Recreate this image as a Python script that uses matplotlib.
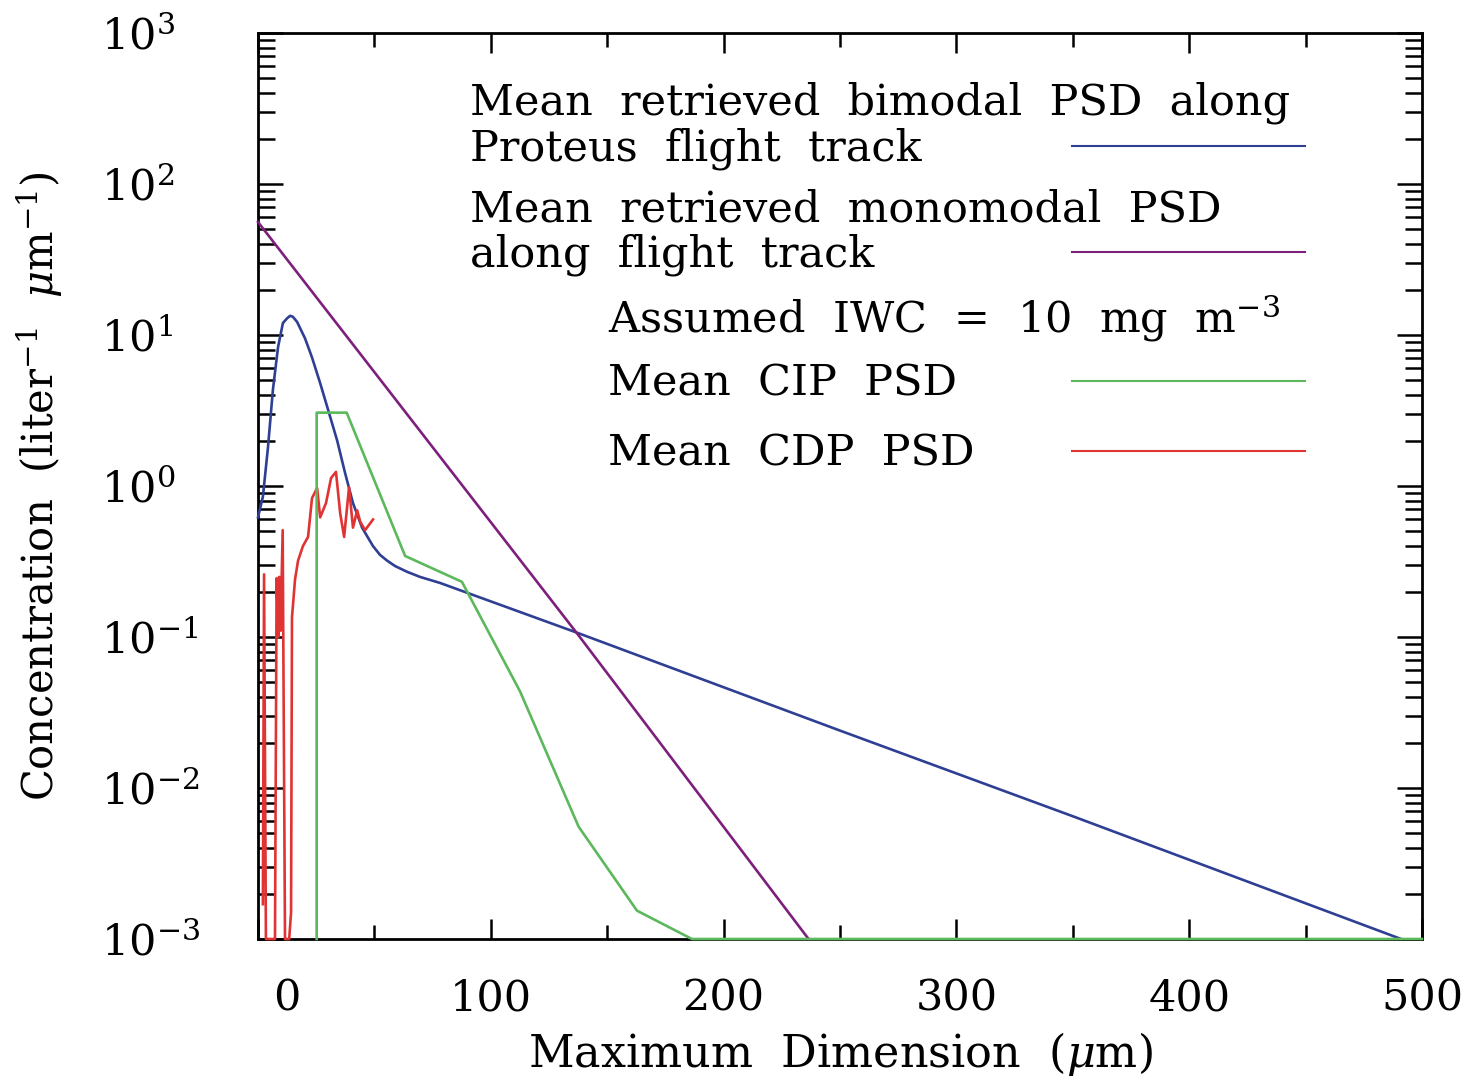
import numpy as np
import matplotlib
matplotlib.use("Agg")
import matplotlib.pyplot as plt
import matplotlib.transforms as mtransforms
from matplotlib.ticker import LogLocator, MultipleLocator, NullFormatter

plt.rcParams['font.family'] = 'DejaVu Serif'
plt.rcParams['mathtext.fontset'] = 'dejavuserif'

# Mean retrieved bimodal PSD (blue)
bi_d = [0, 0.9, 2.1, 4.3, 6.4, 8.6, 10.7, 12.5, 13.8, 15.0, 16.8, 20.2, 23.2, 26.7,
        30.1, 34.0, 37.4, 40.8, 44.7, 49.4, 52.4, 55.5, 58.9, 64.1, 69.6, 78.2,
        137.6, 250, 350, 491]
bi_n = [0.62, 0.71, 0.85, 1.81, 4.33, 8.3, 12.0, 12.9, 13.4, 13.2, 12.2, 9.5, 7.1, 4.8,
        3.2, 2.0, 1.22, 0.77, 0.53, 0.40, 0.35, 0.32, 0.295, 0.27, 0.25, 0.228,
        0.106, 0.024, 0.0065, 0.001]

# Mean retrieved monomodal PSD (purple)
mono_d = [0, 137.6, 236.5]
mono_n = [56.0, 0.103, 0.001]

# Mean CIP PSD (green)
cip_d = [25.2, 25.2, 38.1, 63.2, 87.6, 112.6, 137.7, 162.8, 186.4, 500]
cip_n = [0.001, 3.06, 3.06, 0.344, 0.232, 0.0435, 0.00555, 0.00154, 0.001, 0.001]

# Mean CDP PSD (red)
cdp_d = [2.1, 2.6, 3.4, 7.3, 8.0, 8.7, 9.1, 9.7, 10.6, 11.6, 13.4, 14.2, 14.6,
         15.9, 17.2, 19.3, 21.5, 23.2, 25.4, 26.7, 29.2, 31.4, 33.5, 35.3, 37.0,
         39.1, 40.8, 42.6, 43.9, 46.0, 49.4]
cdp_n = [0.0017, 0.26, 0.001, 0.001, 0.245, 0.10, 0.25, 0.11, 0.51, 0.001, 0.001,
         0.0015, 0.135, 0.24, 0.32, 0.40, 0.46, 0.83, 0.97, 0.62, 0.77, 1.13, 1.24,
         0.66, 0.46, 0.98, 0.53, 0.69, 0.58, 0.51, 0.60]

x_ticks = [0, 100, 200, 300, 400, 500]
y_ticks = [1e-3, 1e-2, 1e-1, 1e0, 1e1, 1e2, 1e3]

blue = '#2e3f94'
purple = '#7d1f7d'
green = '#5cb85c'
red = '#e03434'

fig = plt.figure(figsize=(14.81, 10.82), dpi=100)
ax = fig.add_axes([258/1481, 1 - 939/1082, (1422-258)/1481, (939-33)/1082])

lw = 1.9
ax.plot(bi_d, bi_n, color=blue, lw=lw, zorder=3, clip_on=False)
ax.plot(mono_d, mono_n, color=purple, lw=lw, zorder=3, clip_on=False)
ax.plot(cdp_d, cdp_n, color=red, lw=lw, zorder=3, clip_on=False)
ax.plot(cip_d, cip_n, color=green, lw=lw, zorder=3, clip_on=False)

ax.set_yscale('log')
ax.set_xlim(0, 500)
ax.set_ylim(1e-3, 1e3)

ax.set_xticks(x_ticks)
ax.xaxis.set_minor_locator(MultipleLocator(50))
ax.set_yticks(y_ticks)
ax.yaxis.set_minor_locator(LogLocator(base=10, subs=np.arange(2, 10), numticks=10))
ax.yaxis.set_minor_formatter(NullFormatter())

for s in ax.spines.values():
    s.set_linewidth(2.0)

ax.tick_params(axis='x', which='major', direction='in', length=14.5, width=1.8,
               top=True, labelsize=31, pad=28)
ax.tick_params(axis='x', which='minor', direction='in', length=10, width=1.8, top=True)
ax.tick_params(axis='y', which='major', direction='in', length=18, width=1.8,
               right=True, labelsize=31, pad=113)
ax.tick_params(axis='y', which='minor', direction='in', length=12, width=1.8, right=True)

fig.canvas.draw()
for lab in ax.get_yticklabels():
    lab.set_horizontalalignment('left')
xl = ax.xaxis.get_majorticklabels()
xl[0].set_transform(xl[0].get_transform() +
                    mtransforms.ScaledTranslation(29/100, 0, fig.dpi_scale_trans))

ax.set_xlabel(r'Maximum  Dimension  ($\mu$m)', fontsize=32, labelpad=7)
ax.set_ylabel(r'Concentration  (liter$^{-1}$  $\mu$m$^{-1}$)', fontsize=30, labelpad=26)

# legend block
fs = 31
tx1 = (470-258)/1164
tx2 = (608-258)/1164
def yf(py):
    return (939 - py)/906

ax.text(tx1, yf(115), 'Mean  retrieved  bimodal  PSD  along', transform=ax.transAxes,
        fontsize=fs, va='baseline')
ax.text(tx1, yf(160), 'Proteus  flight  track', transform=ax.transAxes,
        fontsize=fs, va='baseline')
ax.text(tx1, yf(222), 'Mean  retrieved  monomodal  PSD', transform=ax.transAxes,
        fontsize=fs, va='baseline')
ax.text(tx1, yf(266), 'along  flight  track', transform=ax.transAxes,
        fontsize=fs, va='baseline')
ax.text(tx2, yf(333), r'Assumed  IWC  =  10  mg  m$^{-3}$', transform=ax.transAxes,
        fontsize=fs, va='baseline')
ax.text(tx2, yf(395), 'Mean  CIP  PSD', transform=ax.transAxes,
        fontsize=fs, va='baseline')
ax.text(tx2, yf(465), 'Mean  CDP  PSD', transform=ax.transAxes,
        fontsize=fs, va='baseline')

lx = [(1072-258)/1164, (1305-258)/1164]
for py, c in [(146, blue), (252, purple), (381, green), (451, red)]:
    ax.plot(lx, [yf(py), yf(py)], color=c, lw=1.5, transform=ax.transAxes)

fig.savefig('out.png', dpi=100)
